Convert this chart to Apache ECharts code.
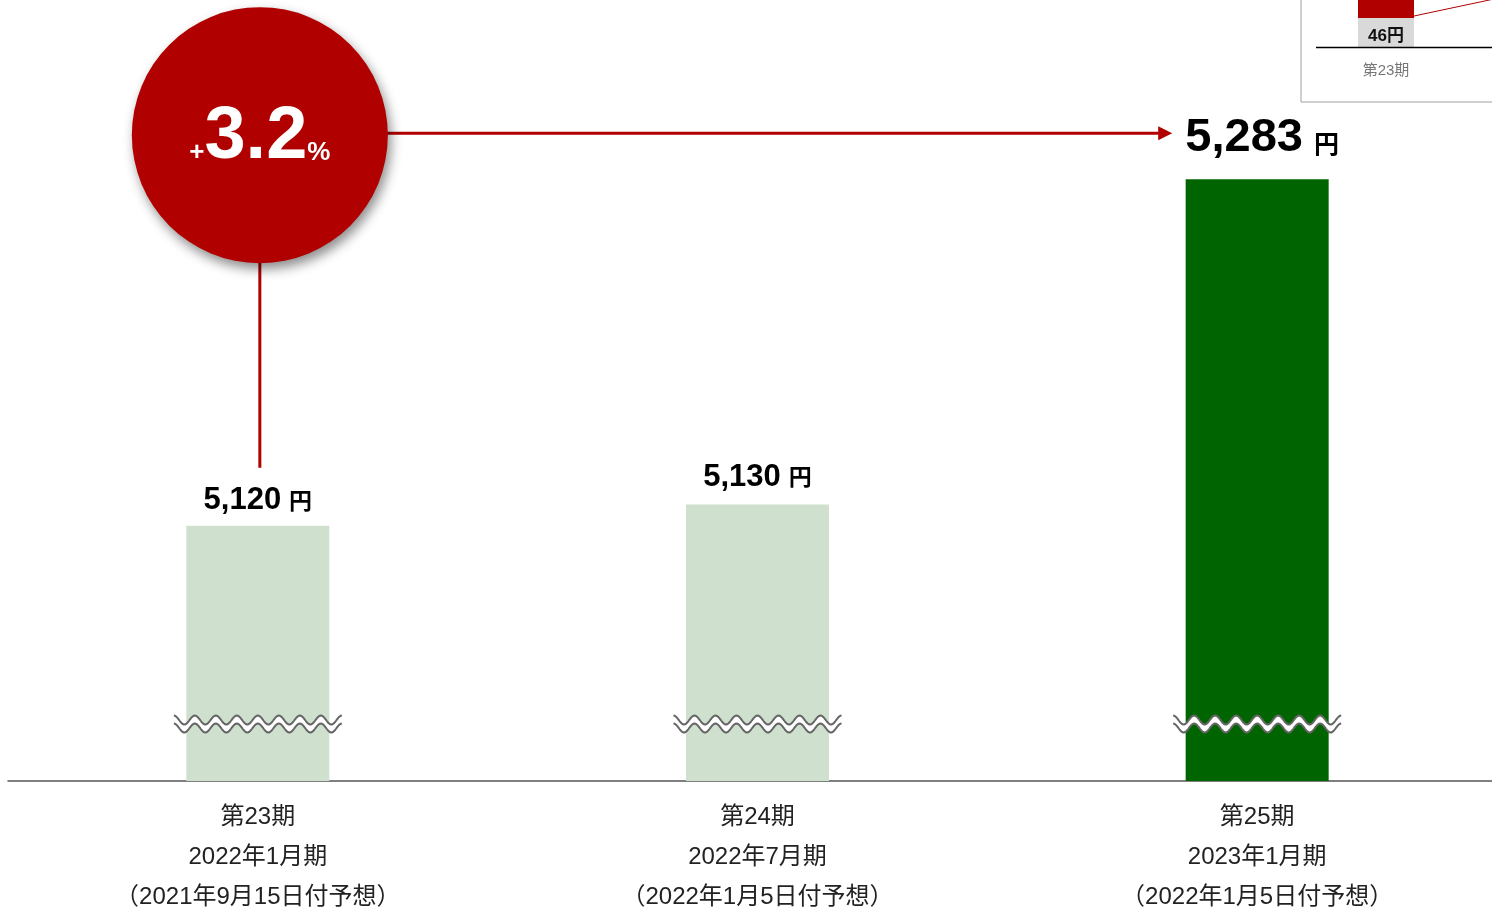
<!DOCTYPE html>
<html><head><meta charset="utf-8">
<script src="https://cdn.jsdelivr.net/npm/echarts@6/dist/echarts.min.js"></script>
<style>html,body{margin:0;padding:0;background:#fff}#c{width:1492px;height:909px}</style>
</head><body><div id="c"></div>
<script>
const periods = ['第23期', '第24期', '第25期'];
const fiscalMonths = ['2022年1月期', '2022年7月期', '2023年1月期'];
const forecastDates = ['（2021年9月15日付予想）', '（2022年1月5日付予想）', '（2022年1月5日付予想）'];
const values = [5120, 5130, 5283];
const growthLabel = '+3.2%';
const insetValue = 46;
const insetPeriod = '第23期';

const FONT = '"Liberation Sans", Arial, "Noto Sans CJK JP", sans-serif';
const RED = '#b00000';
const chart = echarts.init(document.getElementById('c'));

function fmt(v){ return v.toLocaleString('en-US'); }

const barData = values.map((v, i) => ({
  value: v,
  itemStyle: { color: i === 2 ? '#006400' : '#cfe1ce' },
  label: i === 2 ? {
    formatter: '{b|' + fmt(v) + '}{u|円}', distance: 18,
    rich: { b: { fontSize: 47, fontWeight: 'bold', color: '#000', fontFamily: FONT, verticalAlign: 'bottom', padding: [0,0,0,10] },
            u: { fontSize: 25, fontWeight: 'bold', color: '#000', fontFamily: FONT, verticalAlign: 'bottom', padding: [0,0,3,11] } }
  } : {
    formatter: '{b|' + fmt(v) + '}{u|円}', distance: i === 1 ? 12 : 10,
    rich: { b: { fontSize: 31, fontWeight: 'bold', color: '#000', fontFamily: FONT, verticalAlign: 'bottom' },
            u: { fontSize: 23, fontWeight: 'bold', color: '#000', fontFamily: FONT, verticalAlign: 'bottom', padding: [0,0,2,8] } }
  }
}));

function wavePts(x0, x1, yc, amp, period, phase){
  const pts = [];
  for (let x = x0; x <= x1 + 0.01; x += 1) {
    pts.push([x, yc - amp * Math.sin((x - x0) / period * 2 * Math.PI + phase)]);
  }
  return pts;
}

const option = {
  animation: false,
  grid: { left: 8, width: 1499, top: 143, height: 638, containLabel: false, outerBoundsMode: 'none' },
  xAxis: {
    type: 'category', data: periods,
    axisLine: { lineStyle: { color: '#555', width: 1.5 } },
    axisTick: { show: false },
    axisLabel: {
      margin: 16, color: '#222', fontSize: 24, lineHeight: 40, fontFamily: FONT,
      formatter: (v, i) => v + '\n' + fiscalMonths[i] + '\n' + forecastDates[i]
    }
  },
  yAxis: { type: 'value', min: 5000, max: 5300, show: false, splitLine: { show: false } },
  series: [
    { type: 'bar', data: barData, barWidth: 143, label: { show: true, position: 'top' }, z: 2 },
    {
      type: 'custom', z: 5, clip: false,
      data: values.map((v, i) => [i, 5000]),
      renderItem: (params, api) => {
        const p = api.coord([api.value(0), api.value(1)]);
        const cx = p[0], yc = p[1] - 57;
        const x0 = cx - 84, x1 = cx + 84;
        const top = wavePts(x0, x1, yc - 4, 4.5, 21, Math.PI * 0.5);
        const bot = wavePts(x0, x1, yc + 4, 4.5, 21, Math.PI * 0.5);
        const poly = top.concat(bot.slice().reverse());
        return { type: 'group', children: [
          { type: 'polygon', shape: { points: poly }, style: { fill: '#fff' } },
          { type: 'polyline', shape: { points: top }, style: { stroke: '#666', lineWidth: 2, fill: null } },
          { type: 'polyline', shape: { points: bot }, style: { stroke: '#666', lineWidth: 2, fill: null } }
        ]};
      }
    },
    {
      type: 'custom', z: 6, clip: false,
      data: [[0, values[0], 2, values[2]]],
      renderItem: (params, api) => {
        const p1 = api.coord([api.value(0), api.value(1)]);
        const p3 = api.coord([api.value(2), api.value(3)]);
        const cx = p1[0] + 2, cy = p3[1] - 44, r = 128;
        const ay = cy - 2, ax1 = p3[0] - 85;
        return { type: 'group', children: [
          { type: 'line', shape: { x1: cx, y1: cy, x2: cx, y2: p1[1] - 58 }, style: { stroke: RED, lineWidth: 3 } },
          { type: 'line', shape: { x1: cx, y1: ay, x2: ax1 - 8, y2: ay }, style: { stroke: RED, lineWidth: 3 } },
          { type: 'polygon', shape: { points: [[ax1, ay], [ax1 - 14, ay - 7], [ax1 - 14, ay + 7]] }, style: { fill: RED } },
          { type: 'circle', shape: { cx: cx, cy: cy, r: r },
            style: { fill: RED, shadowBlur: 12, shadowOffsetX: 3, shadowOffsetY: 6, shadowColor: 'rgba(0,0,0,0.45)' } },
          { type: 'text', x: cx, y: cy + 2,
            style: { text: '{s|' + growthLabel.slice(0,1) + '}{b|' + growthLabel.slice(1, -1) + '}{s|' + growthLabel.slice(-1) + '}',
              align: 'center', verticalAlign: 'middle',
              rich: { b: { fontSize: 74, fontWeight: 'bold', fill: '#fff', fontFamily: FONT, verticalAlign: 'bottom' },
                      s: { fontSize: 26, fontWeight: 'bold', fill: '#fff', fontFamily: FONT, verticalAlign: 'bottom', padding: [0,0,8,0] } } } }
        ]};
      }
    }
  ],
  graphic: [
    { type: 'rect', shape: { x: 1301, y: -10, width: 220, height: 112 }, style: { fill: '#fff', stroke: '#a0a0a0', lineWidth: 1 }, z: 10 },
    { type: 'rect', shape: { x: 1358, y: 18, width: 56, height: 29 }, style: { fill: '#d9d9d9' }, z: 11 },
    { type: 'rect', shape: { x: 1358, y: -5, width: 56, height: 23 }, style: { fill: RED }, z: 11 },
    { type: 'line', shape: { x1: 1316, y1: 47.5, x2: 1500, y2: 47.5 }, style: { stroke: '#000', lineWidth: 1.5 }, z: 12 },
    { type: 'line', shape: { x1: 1414, y1: 16, x2: 1494, y2: -1 }, style: { stroke: RED, lineWidth: 1 }, z: 12 },
    { type: 'text', x: 1386, y: 36, style: { text: insetValue + '円', fontSize: 17, fontWeight: 'bold', fill: '#111', fontFamily: FONT, align: 'center', verticalAlign: 'middle' }, z: 12 },
    { type: 'text', x: 1386, y: 71, style: { text: insetPeriod, fontSize: 15, fill: '#777', fontFamily: FONT, align: 'center', verticalAlign: 'middle' }, z: 12 }
  ]
};
chart.setOption(option);
</script></body></html>
